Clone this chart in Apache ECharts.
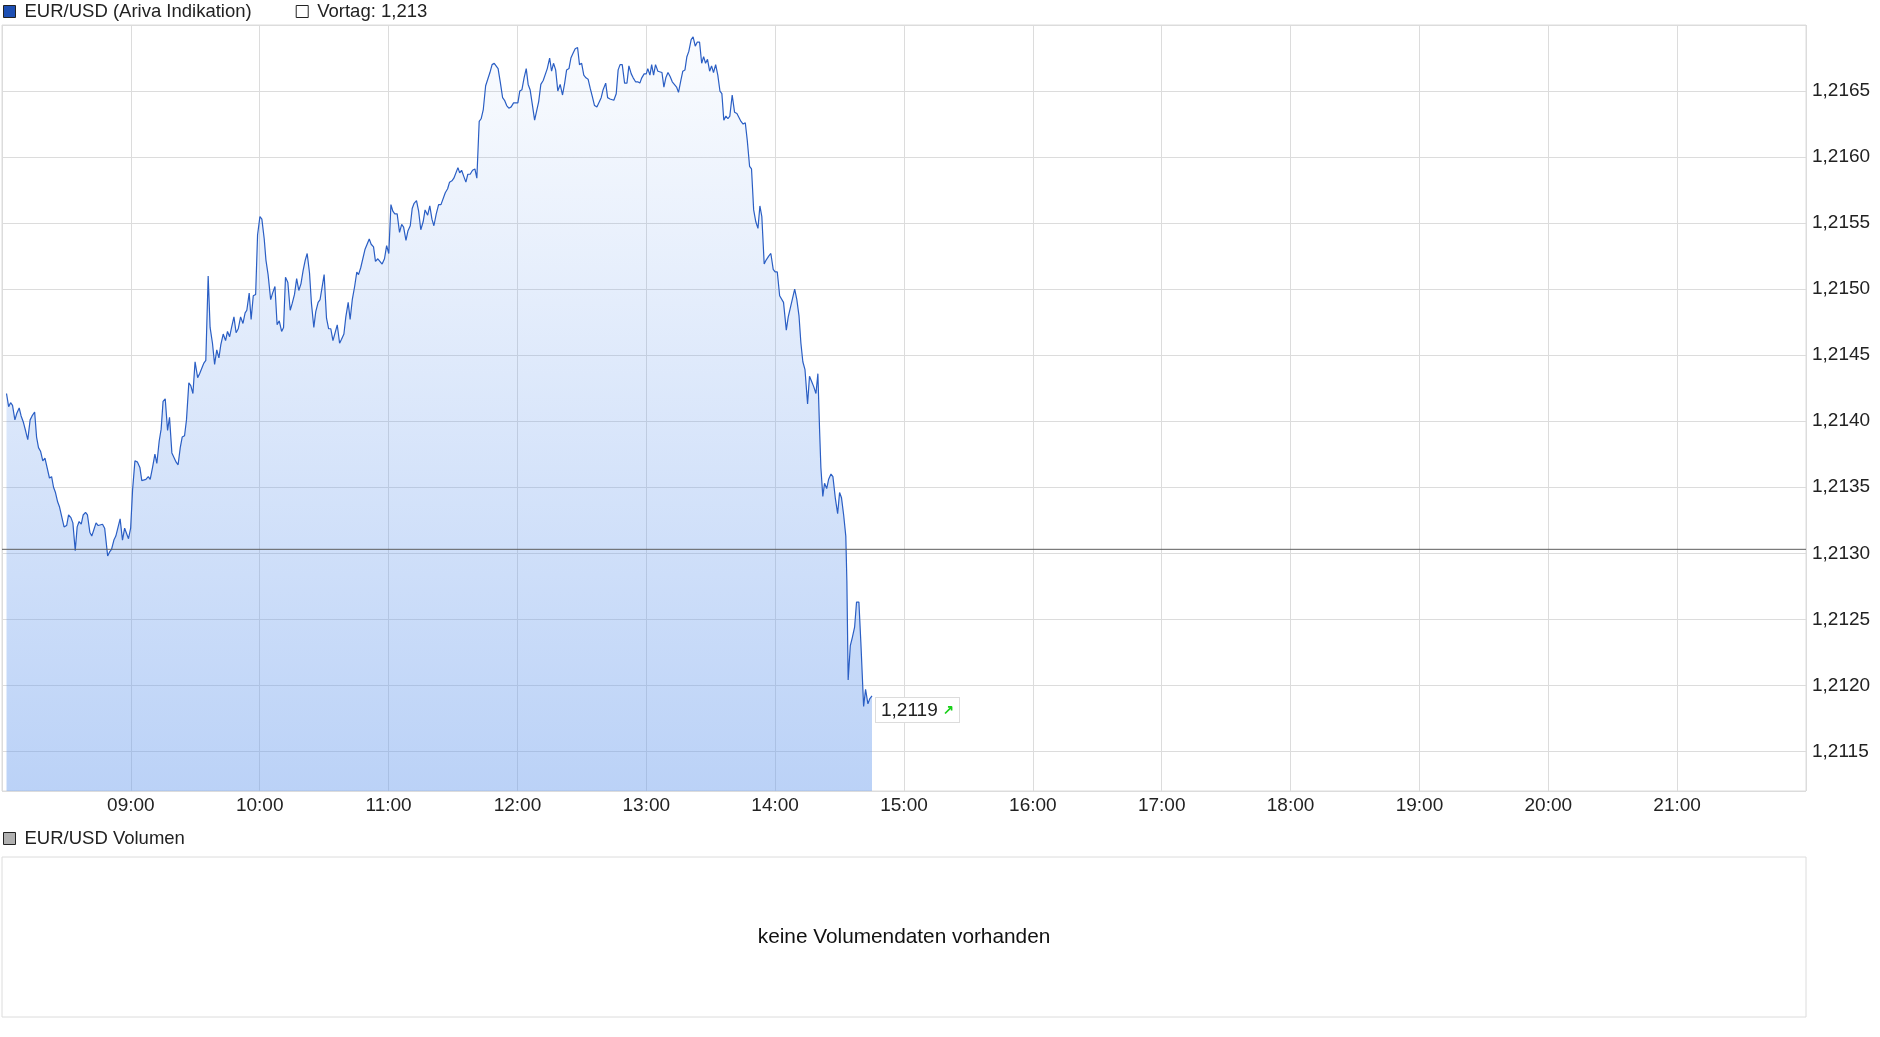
<!DOCTYPE html>
<html><head><meta charset="utf-8">
<script src="https://cdn.jsdelivr.net/npm/echarts@6/dist/echarts.min.js"></script>
<style>html,body{margin:0;padding:0;background:#fff}#c{width:1880px;height:1037px}</style>
</head><body><div id="c"></div>
<script>
// minutes after 08:00
const minutes = [
2.1,3.1,4.0,4.9,6.0,6.9,8.0,8.9,10.0,11.1,12.0,13.1,14.0,15.2,16.1,17.0,18.0,19.0,20.0,20.9,
22.1,23.1,24.0,24.9,25.9,26.8,27.7,28.9,30.1,31.0,32.1,33.0,34.1,35.0,35.9,36.9,37.8,38.9,39.8,40.9,
41.8,42.8,43.8,44.8,45.7,46.8,47.8,49.2,50.1,51.0,52.1,53.0,53.9,55.0,56.1,57.1,58.0,58.9,59.9,60.8,
61.9,63.1,64.2,65.1,67.0,68.1,69.0,70.1,71.2,72.1,73.2,74.1,75.0,76.0,77.1,78.0,79.1,80.0,81.1,82.0,
83.0,83.9,85.0,85.9,87.0,87.9,88.9,89.9,91.1,92.0,92.9,94.0,94.9,96.0,96.9,98.0,99.0,100.0,101.0,101.9,
103.0,104.1,105.0,106.0,106.9,108.0,109.0,110.0,111.1,112.2,113.2,114.0,115.1,116.0,117.0,118.1,119.0,120.1,121.0,122.1,
122.9,123.9,125.1,126.0,127.1,128.1,129.1,130.2,131.1,132.0,133.1,134.2,135.1,136.2,137.2,138.2,139.2,140.2,141.2,142.1,
143.2,144.1,145.2,146.1,147.2,148.1,148.9,150.0,151.1,152.1,153.1,154.1,155.0,156.1,157.2,158.1,159.2,160.1,161.2,162.1,
163.1,164.2,165.2,166.0,167.0,167.9,169.0,169.9,171.0,171.9,173.0,173.9,175.0,175.9,177.0,178.1,179.1,180.1,181.1,182.0,
182.9,184.0,185.1,186.1,187.0,188.1,189.0,190.1,191.0,191.9,193.0,194.0,195.0,196.1,197.0,198.2,199.2,200.2,201.1,202.2,
203.3,204.4,205.3,206.4,207.5,208.4,209.5,210.4,211.3,212.3,213.1,214.0,215.1,216.0,216.9,218.0,219.1,220.2,221.1,222.2,
223.1,224.1,225.2,226.1,227.2,228.2,229.2,230.1,231.0,232.0,233.1,234.0,235.0,236.0,237.1,238.2,239.1,240.2,241.1,242.1,
243.1,244.1,245.0,245.9,247.1,248.0,248.9,249.9,250.9,252.0,252.9,253.9,255.0,255.9,256.8,257.8,258.8,259.9,261.0,262.0,
262.9,264.0,264.9,266.0,266.9,268.0,268.9,269.9,270.9,271.9,272.9,273.9,275.0,275.9,277.0,277.9,279.0,279.9,281.1,282.0,
283.1,284.0,284.9,286.0,286.9,287.8,288.8,289.9,291.0,291.9,293.0,293.9,295.0,296.0,297.0,297.9,299.0,300.0,300.7,301.7,
302.5,303.4,304.3,305.4,306.3,307.3,308.2,309.1,310.1,311.1,312.1,313.0,314.1,315.0,316.1,317.0,318.0,318.9,319.8,320.9,
321.8,322.8,323.7,324.8,325.8,326.7,327.6,328.5,329.5,330.4,331.3,332.3,333.3,334.3,335.2,336.1,337.1,338.0,338.9,340.0,
341.1,342.2,343.1,344.1,345.1,346.1,347.0,348.1,349.0,350.0,351.0,352.0,352.9,353.8,354.9,355.8,357.0,358.0,359.1,360.0,
361.0,362.1,363.0,363.9,365.2,366.1,367.0,368.1,369.1,370.1,371.1,372.0,372.9,373.9,375.1,376.0,377.0,378.0,379.0,379.9,
380.7,381.3,382.2,383.0,384.0,384.9,386.0,386.9,388.0,389.1,390.0,390.9,391.9,392.9,393.4,394.0,395.0,395.9,397.0,397.9,
399.0,399.9,401.2,402.1,403.2,404.1,405.1
];
const prices = [
1.21421,1.21411,1.21414,1.21412,1.21401,1.21406,1.21410,1.21404,1.21399,1.21392,1.21386,1.21401,1.21404,1.21407,1.21388,1.21380,1.21377,1.21370,1.21372,1.21373,
1.21357,1.21358,1.21350,1.21346,1.21339,1.21335,1.21335,1.21320,1.21321,1.21329,1.21327,1.21323,1.21302,1.21320,1.21324,1.21322,1.21329,1.21331,1.21329,1.21316,
1.21313,1.21318,1.21323,1.21321,1.21321,1.21322,1.21319,1.21298,1.21301,1.21303,1.21310,1.21313,1.21314,1.21326,1.21310,1.21319,1.21318,1.21311,1.21319,1.21348,
1.21370,1.21369,1.21365,1.21355,1.21356,1.21358,1.21356,1.21365,1.21375,1.21368,1.21385,1.21394,1.21415,1.21417,1.21393,1.21403,1.21376,1.21375,1.21369,1.21367,
1.21380,1.21388,1.21389,1.21401,1.21429,1.21427,1.21421,1.21445,1.21433,1.21436,1.21435,1.21444,1.21446,1.21510,1.21471,1.21459,1.21443,1.21454,1.21448,1.21458,
1.21466,1.21461,1.21468,1.21464,1.21471,1.21479,1.21467,1.21470,1.21479,1.21474,1.21482,1.21484,1.21497,1.21477,1.21495,1.21496,1.21541,1.21555,1.21553,1.21538,
1.21522,1.21511,1.21492,1.21497,1.21502,1.21473,1.21476,1.21468,1.21471,1.21509,1.21505,1.21484,1.21489,1.21496,1.21508,1.21499,1.21504,1.21514,1.21522,1.21527,
1.21512,1.21489,1.21471,1.21483,1.21490,1.21492,1.21492,1.21511,1.21478,1.21470,1.21470,1.21461,1.21460,1.21473,1.21459,1.21462,1.21466,1.21479,1.21490,1.21477,
1.21492,1.21502,1.21513,1.21511,1.21516,1.21517,1.21530,1.21531,1.21538,1.21534,1.21532,1.21521,1.21523,1.21523,1.21519,1.21523,1.21533,1.21527,1.21564,1.21559,
1.21557,1.21557,1.21543,1.21549,1.21547,1.21537,1.21544,1.21548,1.21561,1.21565,1.21567,1.21559,1.21545,1.21551,1.21560,1.21556,1.21563,1.21553,1.21548,1.21557,
1.21564,1.21564,1.21564,1.21573,1.21576,1.21581,1.21582,1.21584,1.21583,1.21592,1.21588,1.21590,1.21585,1.21581,1.21587,1.21587,1.21590,1.21591,1.21584,1.21627,
1.21629,1.21636,1.21654,1.21655,1.21664,1.21670,1.21671,1.21671,1.21667,1.21657,1.21645,1.21643,1.21639,1.21637,1.21638,1.21641,1.21642,1.21641,1.21650,1.21651,
1.21660,1.21667,1.21655,1.21651,1.21638,1.21628,1.21629,1.21642,1.21655,1.21658,1.21658,1.21667,1.21675,1.21665,1.21671,1.21666,1.21650,1.21655,1.21647,1.21656,
1.21666,1.21667,1.21675,1.21679,1.21682,1.21683,1.21670,1.21671,1.21662,1.21660,1.21659,1.21652,1.21645,1.21639,1.21638,1.21639,1.21645,1.21651,1.21656,1.21645,
1.21644,1.21644,1.21643,1.21648,1.21666,1.21670,1.21670,1.21656,1.21656,1.21669,1.21663,1.21660,1.21657,1.21657,1.21656,1.21660,1.21663,1.21663,1.21667,1.21662,
1.21670,1.21662,1.21670,1.21665,1.21665,1.21664,1.21653,1.21660,1.21664,1.21661,1.21657,1.21656,1.21653,1.21649,1.21658,1.21665,1.21666,1.21676,1.21680,1.21689,
1.21691,1.21684,1.21687,1.21687,1.21671,1.21676,1.21671,1.21674,1.21665,1.21669,1.21664,1.21670,1.21662,1.21650,1.21648,1.21628,1.21631,1.21629,1.21631,1.21647,
1.21634,1.21633,1.21632,1.21627,1.21625,1.21626,1.21613,1.21593,1.21591,1.21560,1.21551,1.21546,1.21563,1.21555,1.21519,1.21522,1.21525,1.21527,1.21515,1.21513,
1.21513,1.21495,1.21494,1.21490,1.21469,1.21479,1.21480,1.21493,1.21500,1.21492,1.21480,1.21459,1.21445,1.21439,1.21413,1.21434,1.21430,1.21426,1.21421,1.21436,
1.21393,1.21365,1.21343,1.21353,1.21349,1.21356,1.21360,1.21358,1.21342,1.21330,1.21346,1.21342,1.21329,1.21313,1.21279,1.21204,1.21230,1.21236,1.21244,1.21263,
1.21263,1.21233,1.21184,1.21197,1.21186,1.21190,1.21192
];
const startHour = 8, endHour = 22;
const prevClose = 1.21303;
const yMin = 1.2112, yMax = 1.2170;
const mainName = 'EUR/USD (Ariva Indikation)';
const volName = 'EUR/USD Volumen';
const noVolText = 'keine Volumendaten vorhanden';

const FONT = "'Liberation Sans', Arial, sans-serif";
const fmt4 = v => v.toFixed(4).replace('.', ',');
const vortagName = 'Vortag: ' + prevClose.toFixed(3).replace('.', ',');
const spanMin = (endHour - startHour) * 60;
const W = 1880, H = 1037;
const g0 = {left: 2, right: 74, top: 25, bottom: 246};
const g1 = {left: 2, right: 74, top: 857, bottom: 20};

const chart = echarts.init(document.getElementById('c'), null, {renderer: 'canvas'});
const legendText = {fontSize: 18.5, color: '#222', fontFamily: FONT, padding: [0, 0, 0, 4]};
const option = {
  animation: false,
  backgroundColor: '#fff',
  textStyle: {fontFamily: FONT},
  grid: [
    Object.assign({show: true, borderColor: '#dcdcdc', borderWidth: 1, backgroundColor: 'transparent'}, g0),
    Object.assign({show: true, borderColor: '#dcdcdc', borderWidth: 1, backgroundColor: 'transparent'}, g1)
  ],
  legend: [
    {
      left: 3, top: 2, padding: 0, icon: 'rect', itemWidth: 12, itemHeight: 12, itemGap: 44,
      selectedMode: false, textStyle: legendText,
      data: [
        {name: mainName, itemStyle: {color: '#1d4fb3', borderColor: '#222', borderWidth: 1}},
        {name: vortagName, itemStyle: {color: '#fff', borderColor: '#222', borderWidth: 1}}
      ]
    },
    {
      left: 3, top: 829, padding: 0, icon: 'rect', itemWidth: 12, itemHeight: 12,
      selectedMode: false, textStyle: legendText,
      data: [{name: volName, itemStyle: {color: '#b0b0b0', borderColor: '#222', borderWidth: 1}}]
    }
  ],
  xAxis: [
    {
      type: 'value', gridIndex: 0, min: 0, max: spanMin, interval: 60,
      axisLine: {show: false}, axisTick: {show: false},
      axisLabel: {
        fontSize: 19, color: '#222', margin: 5, fontFamily: FONT,
        showMinLabel: false, showMaxLabel: false,
        formatter: v => String(startHour + Math.round(v / 60)).padStart(2, '0') + ':00'
      },
      splitLine: {show: true, lineStyle: {color: '#dcdcdc', width: 1}}
    },
    {type: 'value', gridIndex: 1, min: 0, max: spanMin, show: false}
  ],
  yAxis: [
    {
      type: 'value', gridIndex: 0, position: 'right', min: yMin, max: yMax, splitNumber: 12,
      axisLine: {show: false}, axisTick: {show: false},
      axisLabel: {
        fontSize: 19, color: '#222', margin: 6, fontFamily: FONT,
        showMinLabel: false, showMaxLabel: false, formatter: fmt4
      },
      splitLine: {show: true, lineStyle: {color: '#dcdcdc', width: 1}}
    },
    {type: 'value', gridIndex: 1, min: 0, max: 1, show: false}
  ],
  series: [
    {
      name: mainName, type: 'line', xAxisIndex: 0, yAxisIndex: 0,
      data: minutes.map((m, i) => [m, prices[i]]),
      symbol: 'none', sampling: null,
      lineStyle: {color: '#2a5ec4', width: 1.2},
      itemStyle: {color: '#2a5ec4'},
      areaStyle: {
        origin: 'start', opacity: 1,
        color: new echarts.graphic.LinearGradient(0, 0, 0, 1, [
          {offset: 0, color: 'rgba(104,155,237,0.03)'},
          {offset: 1, color: 'rgba(104,155,237,0.45)'}
        ])
      },
      endLabel: {
        show: true,
        formatter: p => fmt4(p.value[1]) + ' {up|↗}',
        fontSize: 19, color: '#222', fontFamily: FONT,
        backgroundColor: '#fff', borderColor: '#dcdcdc', borderWidth: 1,
        padding: [3, 5, 2, 5], distance: 4, offset: [0, 14],
        rich: {up: {color: '#18d018', fontSize: 13, fontWeight: 'bold'}}
      },
      z: 2
    },
    {
      name: vortagName, type: 'line', xAxisIndex: 0, yAxisIndex: 0,
      data: [[0, prevClose], [spanMin, prevClose]],
      symbol: 'none', silent: true,
      lineStyle: {color: '#5e5e5e', width: 1},
      itemStyle: {color: '#fff'},
      z: 3
    },
    {
      name: volName, type: 'bar', xAxisIndex: 1, yAxisIndex: 1,
      data: [], itemStyle: {color: '#b0b0b0'}
    }
  ],
  graphic: [
    {
      type: 'text',
      x: (g1.left + (W - g1.right)) / 2,
      y: (g1.top + (H - g1.bottom)) / 2,
      style: {text: noVolText, fontSize: 20.8, fontFamily: FONT, fill: '#111', align: 'center', verticalAlign: 'middle'}
    }
  ]
};
chart.setOption(option);
</script>
</body></html>
